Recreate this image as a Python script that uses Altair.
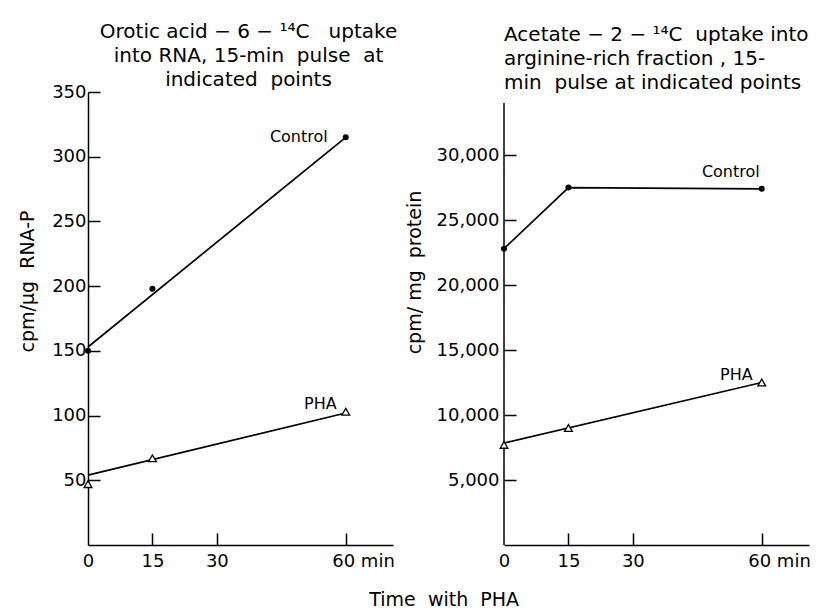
import altair as alt
import pandas as pd

# ---------------- data ----------------
times = [0, 15, 60]
fit_times = [0, 60]

orotic_control = [150, 198, 315]
orotic_pha = [47, 67, 103]
orotic_control_fit = [153, 315]
orotic_pha_fit = [54, 102]

acetate_control = [22800, 27500, 27400]
acetate_pha = [7700, 9000, 12500]
acetate_pha_fit = [7850, 12500]

x_ticks = [0, 15, 30, 60]
x_inner_ticks = [15, 30, 60]
orotic_ticks = [50, 100, 150, 200, 250, 300, 350]
acetate_ticks = [5000, 10000, 15000, 20000, 25000, 30000]
acetate_axis_top = 34000

series_labels = ["Control", "PHA"]

NB = "\u00a0"
left_title = [f"Orotic acid − 6 − ¹⁴C{NB}{NB}{NB}uptake", f"into RNA, 15-min{NB}{NB}pulse{NB}{NB}at",
              f"indicated{NB}{NB}points"]
right_title = [f"Acetate − 2 − ¹⁴C{NB}{NB}uptake into", "arginine-rich fraction , 15-",
               f"min{NB}{NB}pulse at indicated points"]
left_ytitle = f"cpm/μg{NB}{NB}RNA-P"
right_ytitle = f"cpm/ mg{NB}{NB}protein"
x_title = f"Time{NB}{NB}with{NB}{NB}PHA"

FONT = "DejaVu Sans"
W, H = 305, 453
X_DOMAIN = [0, 71]


def panel(ctrl_t, ctrl_v, pha_t, pha_v, ctrl_line_t, ctrl_line_v, pha_line_t, pha_line_v,
          ydomain, yticks, ylabel_values, ytitle, title, title_anchor, title_dx, title_offset,
          ytitle_x, ytitle_y, ylabel_pad, ctrl_dx, ctrl_dy, pha_dx, pha_dy,
          y_domain_line=True, axis_top=None):
    xs = alt.Scale(domain=X_DOMAIN, nice=False, zero=False)
    ys = alt.Scale(domain=ydomain, nice=False, zero=False)

    ctrl_df = pd.DataFrame({"t": ctrl_t, "v": ctrl_v})
    pha_df = pd.DataFrame({"t": pha_t, "v": pha_v})
    ctrl_line_df = pd.DataFrame({"t": ctrl_line_t, "v": ctrl_line_v})
    pha_line_df = pd.DataFrame({"t": pha_line_t, "v": pha_line_v})

    x_none = alt.X("t:Q", scale=xs, axis=None)
    y_none = alt.Y("v:Q", scale=ys, axis=None)

    main_x_axis = alt.Axis(
        values=x_ticks, ticks=False, domain=True, domainWidth=1.5, domainColor="black",
        labelFontSize=18, labelPadding=7, labelFlush=False, labelOverlap=False,
        labelExpr="datum.value == 60 ? '60 min' : datum.label",
        labelAlign={"condition": {"test": "datum.value == 60", "value": "left"}, "value": "center"},
        labelOffset={"condition": {"test": "datum.value == 60", "value": -14}, "value": 0},
        title=None, grid=False,
    )
    tick_x_axis = alt.Axis(
        orient="top", offset=-H, values=x_inner_ticks, labels=False, domain=False,
        ticks=True, tickSize=12, tickWidth=1.5, tickColor="black", title=None, grid=False,
    )
    main_y_axis = alt.Axis(
        values=ylabel_values, ticks=False, domain=y_domain_line, domainWidth=1.5, domainColor="black",
        labelFontSize=18, labelPadding=ylabel_pad, format=",d", labelFlush=False, labelOverlap=False,
        title=ytitle, titleFontSize=19, titleFontWeight="normal", titleX=ytitle_x, titleY=ytitle_y,
        titleAngle=-90, titleBaseline="middle", titleAlign="center", grid=False,
    )
    tick_y_axis = alt.Axis(
        orient="right", offset=-W, values=yticks, labels=False, domain=False,
        ticks=True, tickSize=12, tickWidth=1.5, tickColor="black", title=None, grid=False,
    )

    ctrl_line = alt.Chart(ctrl_line_df).mark_line(color="black", strokeWidth=1.7).encode(x=x_none, y=y_none)
    pha_line = alt.Chart(pha_line_df).mark_line(color="black", strokeWidth=1.7).encode(x=x_none, y=y_none)

    ctrl_pts = alt.Chart(ctrl_df).mark_point(shape="circle", filled=True, color="black", size=36, opacity=1).encode(
        x=alt.X("t:Q", scale=xs, axis=main_x_axis),
        y=alt.Y("v:Q", scale=ys, axis=main_y_axis),
    )
    pha_pts = alt.Chart(pha_df).mark_point(shape="triangle-up", filled=True, fill="white", stroke="black",
                                           strokeWidth=1.3, size=60, opacity=1).encode(
        x=alt.X("t:Q", scale=xs, axis=tick_x_axis),
        y=alt.Y("v:Q", scale=ys, axis=tick_y_axis),
    )

    ctrl_lab_df = pd.DataFrame({"t": [ctrl_t[-1]], "v": [ctrl_v[-1]], "label": [series_labels[0]]})
    pha_lab_df = pd.DataFrame({"t": [pha_t[-1]], "v": [pha_v[-1]], "label": [series_labels[1]]})
    ctrl_lab = alt.Chart(ctrl_lab_df).mark_text(align="right", baseline="middle", font=FONT, fontSize=16,
                                                color="black", dx=ctrl_dx, dy=ctrl_dy).encode(
        x=x_none, y=y_none, text="label:N")
    pha_lab = alt.Chart(pha_lab_df).mark_text(align="right", baseline="middle", font=FONT, fontSize=16,
                                              color="black", dx=pha_dx, dy=pha_dy).encode(
        x=x_none, y=y_none, text="label:N")

    layers = [ctrl_line, pha_line, ctrl_pts, pha_pts, ctrl_lab, pha_lab]
    if axis_top is not None:
        ax_df = pd.DataFrame({"t": [0], "v0": [0], "v1": [axis_top]})
        ax_rule = alt.Chart(ax_df).mark_rule(color="black", strokeWidth=1.5).encode(
            x=x_none, y=alt.Y("v0:Q", scale=ys, axis=None), y2="v1:Q")
        layers.insert(0, ax_rule)

    return alt.layer(*layers).resolve_axis(x="independent", y="independent").properties(
        width=W, height=H,
        title=alt.TitleParams(text=title, anchor=title_anchor, frame="group", dx=title_dx, fontSize=20,
                              font=FONT, fontWeight="normal", lineHeight=24, offset=title_offset,
                              color="black"),
    )


left = panel(times, orotic_control, times, orotic_pha, fit_times, orotic_control_fit, fit_times, orotic_pha_fit,
             [0, 350], orotic_ticks, orotic_ticks, left_ytitle, left_title, "middle", 8, -7,
             -61, 189, 2, -18, 0, -9, -8)

right = panel(times, acetate_control, times, acetate_pha, times, acetate_control, fit_times, acetate_pha_fit,
              [0, 34850], acetate_ticks, acetate_ticks, right_ytitle, right_title, "start", 0, -1,
              -90, 180, 5, -2, -17, -9, -8, y_domain_line=False, axis_top=acetate_axis_top)

chart = alt.hconcat(left, right, spacing=111, bounds="flush").properties(
    padding={"left": 10, "top": 14, "right": 0, "bottom": 0},
    title=alt.TitleParams(text=x_title, orient="bottom", anchor="middle", dx=30, fontSize=19, font=FONT,
                          fontWeight="normal", offset=21, color="black"),
).configure_axis(
    labelFont=FONT, titleFont=FONT, labelColor="black", titleColor="black",
).configure_view(stroke=None).configure_text(font=FONT)

chart.save("out.html", embed_options={"renderer": "svg", "actions": False})
